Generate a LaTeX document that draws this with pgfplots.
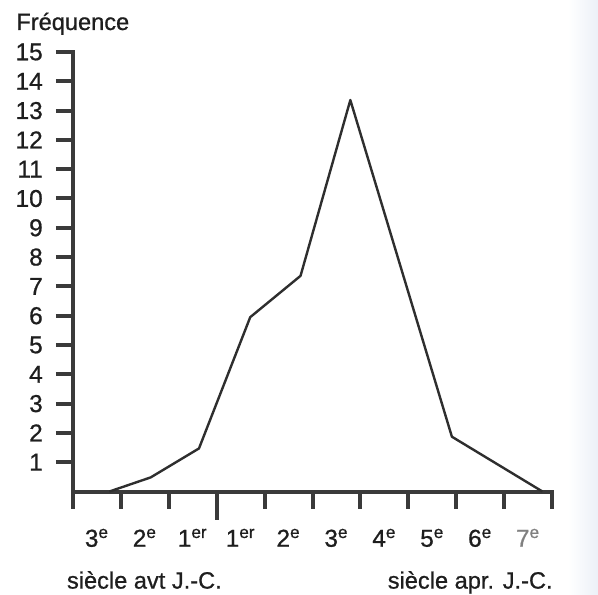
\documentclass[border=0pt]{standalone}
\usepackage{pgfplots}
\pgfplotsset{compat=1.18}
\usepackage{fontspec}
\setmainfont{Liberation Sans}[BoldFont={Liberation Sans}, BoldFeatures={FakeBold=0.8}]
\definecolor{ax}{HTML}{3A3A3A}
\definecolor{ln}{HTML}{2E2E2E}
\definecolor{tx}{HTML}{1E1E1E}
\begin{document}
\fontsize{11.8}{14}\selectfont\bfseries
\begin{tikzpicture}
\useasboundingbox (0,0) rectangle (299pt,297pt);
\fill[left color=white, right color={rgb,255:red,236;green,240;blue,247}] (284pt,0) rectangle (299pt,297pt);
\begin{axis}[
  at={(36.5pt,51.25pt)}, anchor=south west, scale only axis,
  width=239.5pt, height=219.75pt,
  xmin=0, xmax=10, ymin=0, ymax=15,
  axis lines*=left,
  axis line style={line width=2pt, color=ax, line cap=rect},
  tick align=outside,
  major tick length=8.5pt,
  tick style={line width=2pt, color=ax},
  ytick={1,...,15},
  xtick={0,...,10},
  x tick label as interval,
  xticklabels={3\textsuperscript{e},2\textsuperscript{e},1\textsuperscript{er},1\textsuperscript{er},2\textsuperscript{e},3\textsuperscript{e},4\textsuperscript{e},5\textsuperscript{e},6\textsuperscript{e},\textcolor{gray}{7\textsuperscript{e}}},
  xticklabel style={anchor=base, yshift=-19.1pt, font=\fontsize{12.2}{14}\selectfont\bfseries, text=tx},
  yticklabel style={anchor=east, xshift=-2.5pt, font=\fontsize{12.2}{14}\selectfont\bfseries, text=tx},
  /pgf/number format/assume math mode=true,
  clip=false,
]
\addplot[ln, line width=1.2pt, line join=round] coordinates {
  (0.76,0) (1.62,0.48) (2.63,1.47) (3.70,5.95) (4.75,7.36) (5.79,13.36) (7.91,1.87) (9.80,0)
};
\draw[ax, line width=2pt] (axis cs:3,0) -- ++(0,-14pt);
\end{axis}
\node[anchor=base west, text=tx, inner sep=0pt] at (8pt,282pt) {Fréquence};
\node[anchor=base west, text=tx, inner sep=0pt] at (33.3pt,2.7pt) {siècle avt J.-C.};
\node[anchor=base east, text=tx, inner sep=0pt] at (276.5pt,2.7pt) {siècle apr. J.-C.};
\end{tikzpicture}
\end{document}
